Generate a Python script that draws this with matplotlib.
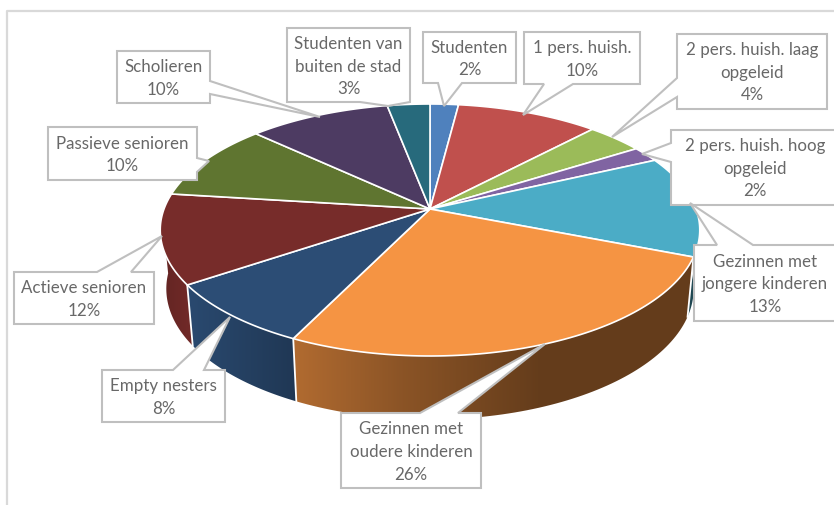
import numpy as np
import matplotlib
matplotlib.use("Agg")
import matplotlib.pyplot as plt
from matplotlib.patches import Polygon

# ---- data ----
categories = ["Studenten", "1 pers. huish.", "2 pers. huish. laag\nopgeleid",
              "2 pers. huish. hoog\nopgeleid", "Gezinnen met\njongere kinderen",
              "Gezinnen met\noudere kinderen", "Empty nesters", "Actieve senioren",
              "Passieve senioren", "Scholieren", "Studenten van\nbuiten de stad"]
values = [2, 10, 4, 2, 13, 26.2, 8.3, 11.5, 10, 10, 3]
percent_labels = ["2%", "10%", "4%", "2%", "13%", "26%", "8%", "12%", "10%", "10%", "3%"]
colors = ["#4f81bd", "#c0504d", "#9bbb59", "#8064a2", "#4bacc6", "#f59443",
          "#2c4d75", "#772c2a", "#5f7530", "#4d3b62", "#276a7c"]

# ---- layout of the callouts: box (x0, y0, x1, y1), pointer edge, base, tip ----
callouts = [
    ((423, 32, 516, 83), "bottom", (438, 462), (444, 106)),
    ((524, 32, 640, 84), "bottom", (544, 573), (523, 115)),
    ((677, 34, 827, 109), "left", (78, 97), (612, 137)),
    ((671, 130, 839, 205), "left", (143, 162), (642, 154)),
    ((694, 245, 836, 321), "top", (717, 753), (690, 203)),
    ((341, 413, 481, 488), "top", (420, 458), (545, 344)),
    ((102, 370, 225, 422), "top", (173, 204), (230, 317)),
    ((14, 272, 154, 324), "top", (97, 131), (162, 236)),
    ((48, 127, 197, 180), "right", (158, 172), (209, 161)),
    ((117, 51, 210, 103), "right", (81, 94), (320, 117)),
    ((287, 28, 410, 102), "bottom", (360, 410), (388, 106)),
]

CX, CY, RX, RY, K = 430, 209, 266, 122.5, 1 / 6
CY2, RX2, RY2 = 267, 260, 127


def project(theta, r=1.0, cy=CY, rx=RX, ry=RY):
    u, v = r * np.sin(theta), r * np.cos(theta)
    w = 1 + K * v
    return CX + rx * u / w, cy - ry * v / w


def shade(hex_color, x):
    f = np.interp(x, [160, 190, 296, 400, 540, 834], [.82, .95, .72, .57, .41, .41])
    return np.outer(f, np.array(matplotlib.colors.to_rgb(hex_color)))


fig = plt.figure(figsize=(8.34, 5.05), dpi=100)
ax = fig.add_axes([0, 0, 1, 1])
plt.rcParams["font.family"] = ["Lato", "DejaVu Sans"]
ax.axis("off")

# frame
ax.plot([7, 7, 834], [505, 11, 11], color="#d9d9d9", lw=1.6, zorder=1)

edges = 2 * np.pi * np.concatenate([[0], np.cumsum(values)]) / np.sum(values)

# outer wall: a horizontal gradient clipped to each slice's wall outline
for i, col in enumerate(colors):
    mid_cut = np.arccos(-0.05)
    a = max(edges[i], mid_cut)
    b = min(edges[i + 1], 2 * np.pi - mid_cut)
    if a >= b:
        continue
    ts = np.linspace(a, b, 80)
    xt, yt = project(ts)
    xl, yl = project(ts[::-1], cy=CY2, rx=RX2, ry=RY2)
    xs = np.concatenate([xt, xl])
    ys = np.concatenate([yt, yl])
    x_lo, x_hi = xs.min() - 1, xs.max() + 1
    grad = shade(col, np.linspace(x_lo, x_hi, 300))[None, :, :]
    im = ax.imshow(grad, extent=(x_lo, x_hi, ys.max() + 1, ys.min() - 1), aspect="auto",
                   interpolation="bilinear", zorder=2)
    clip = Polygon(np.column_stack([xs, ys]), closed=True, transform=ax.transData)
    im.set_clip_path(clip)

for e in edges:
    if np.cos(e) < -0.2:
        x0, y0 = project(e)
        x1, y1 = project(e, cy=CY2, rx=RX2, ry=RY2)
        ax.plot([x0, x1], [y0, y1], color="white", lw=1.3, zorder=3)

# top face
for i, col in enumerate(colors):
    ts = np.linspace(edges[i], edges[i + 1], 80)
    xs, ys = project(ts)
    pts = [(CX, CY)] + list(zip(xs, ys))
    ax.add_patch(Polygon(pts, closed=True, fc=col, ec="white", lw=1.2,
                         joinstyle="round", zorder=4))


# callouts
def outline(box, edge, base, tip):
    x0, y0, x1, y1 = box
    a, b = base
    if edge == "top":
        return [(x0, y0), (a, y0), tip, (b, y0), (x1, y0), (x1, y1), (x0, y1)]
    if edge == "right":
        return [(x0, y0), (x1, y0), (x1, a), tip, (x1, b), (x1, y1), (x0, y1)]
    if edge == "bottom":
        return [(x0, y0), (x1, y0), (x1, y1), (b, y1), tip, (a, y1), (x0, y1)]
    return [(x0, y0), (x1, y0), (x1, y1), (x0, y1), (x0, b), tip, (x0, a)]


for name, pct, (box, edge, base, tip) in zip(categories, percent_labels, callouts):
    ax.add_patch(Polygon(outline(box, edge, base, tip), closed=True, fc="white",
                         ec="#bfbfbf", lw=1.5, zorder=6))
    ax.text((box[0] + box[2]) / 2, (box[1] + box[3]) / 2 + 1.5, f"{name}\n{pct}",
            ha="center", va="center", fontsize=12.2, color="#686868",
            linespacing=1.5, family=["Lato", "DejaVu Sans"], zorder=7)

ax.set_xlim(0, 834)
ax.set_ylim(505, 0)
fig.savefig("out.png", dpi=100)
